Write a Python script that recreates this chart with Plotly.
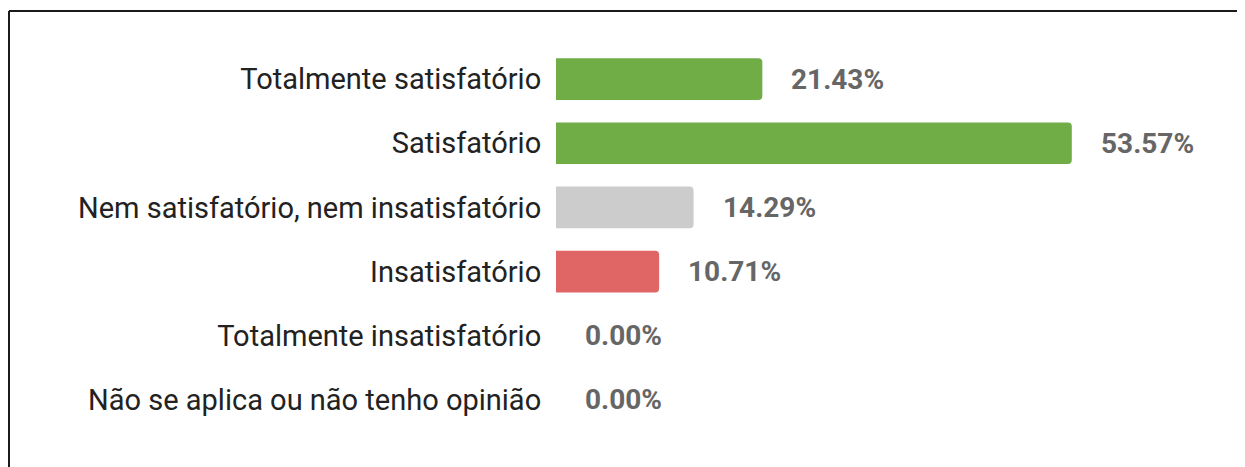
import plotly.graph_objects as go

# survey answers, top to bottom
categories = [
    'Totalmente satisfatório',
    'Satisfatório',
    'Nem satisfatório, nem insatisfatório',
    'Insatisfatório',
    'Totalmente insatisfatório',
    'Não se aplica ou não tenho opinião',
]
percentages = [21.43, 53.57, 14.29, 10.71, 0.00, 0.00]
bar_colors = ['#70AD47', '#70AD47', '#CCCCCC', '#E06666', '#E06666', '#CCCCCC']

# page body has an 8px margin, so the figure is a bit smaller than the window
W, H = 1237, 459
margin = dict(l=548, r=15, t=39, b=35)

fig = go.Figure(go.Bar(
    x=percentages,
    y=categories,
    orientation='h',
    marker=dict(color=bar_colors, cornerradius=4, line=dict(width=0)),
    hoverinfo='skip',
))

# value labels, pushed off the bar end
for cat, val in zip(categories, percentages):
    fig.add_annotation(
        x=val, y=cat, text=f'{val:.2f}%',
        xanchor='left', yanchor='middle', xshift=27,
        showarrow=False,
        font=dict(family='Roboto', size=28, color='#666666', weight='bold'),
    )

# frame lines (top and left edge of the cropped screenshot)
pw = W - margin['l'] - margin['r']
ph = H - margin['t'] - margin['b']
left_x = (1 - margin['l']) / pw
top_y = (H - margin['b'] - 3) / ph
fig.add_shape(type='line', xref='paper', yref='paper',
              x0=left_x, x1=left_x, y0=-0.2, y1=top_y,
              line=dict(color='#1a1a1a', width=2))
fig.add_shape(type='line', xref='paper', yref='paper',
              x0=left_x, x1=1.1, y0=top_y, y1=top_y,
              line=dict(color='#1a1a1a', width=2))

fig.update_layout(
    width=W, height=H,
    margin=margin,
    paper_bgcolor='white',
    plot_bgcolor='white',
    bargap=0.35,
    showlegend=False,
    xaxis=dict(range=[0, 70], visible=False, fixedrange=True),
    yaxis=dict(
        autorange='reversed',
        showgrid=False, zeroline=False, showline=False,
        ticks='outside', ticklen=8, tickcolor='rgba(0,0,0,0)',
        tickfont=dict(family='Roboto', size=29, color='#222222'),
        fixedrange=True,
    ),
)

fig.write_html('out.html', config={'displayModeBar': False})
